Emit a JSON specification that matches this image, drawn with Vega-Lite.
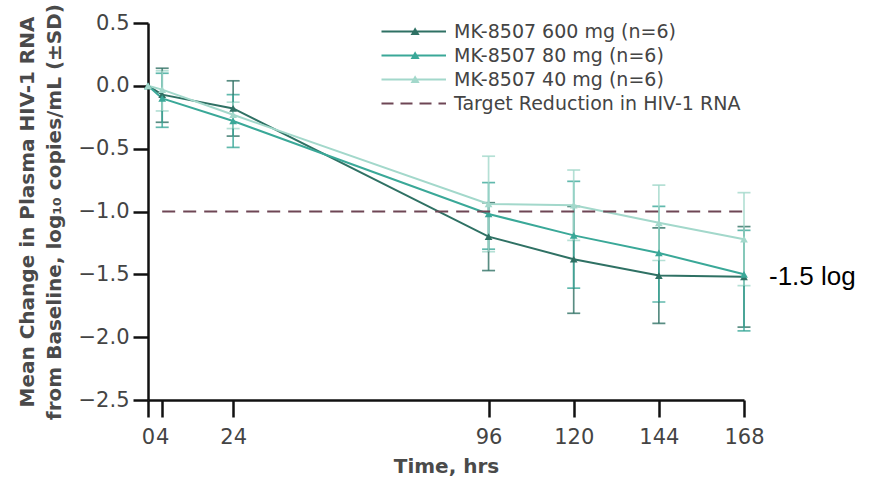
{
  "$schema": "https://vega.github.io/schema/vega-lite/v6.json",
  "width": 596,
  "height": 377,
  "autosize": "none",
  "padding": {"left": 148, "top": 23, "right": 125, "bottom": 82},
  "background": "white",
  "config": {
    "view": {"stroke": null},
    "font": "DejaVu Sans",
    "axis": {
      "grid": false,
      "domainColor": "#111111",
      "domainWidth": 2.5,
      "tickColor": "#111111",
      "tickWidth": 2.5,
      "labelFont": "DejaVu Sans",
      "labelFontSize": 21,
      "labelColor": "#444444",
      "titleFont": "DejaVu Sans",
      "titleFontWeight": "bold",
      "titleColor": "#4a4a4a"
    }
  },
  "data": {
    "values": [
      {"series": "MK-8507 600 mg (n=6)", "t": 0, "mean": 0, "lo": null, "hi": null},
      {"series": "MK-8507 600 mg (n=6)", "t": 4, "mean": -0.07, "lo": -0.29, "hi": 0.14},
      {"series": "MK-8507 600 mg (n=6)", "t": 24, "mean": -0.18, "lo": -0.40, "hi": 0.04},
      {"series": "MK-8507 600 mg (n=6)", "t": 96, "mean": -1.20, "lo": -1.47, "hi": -0.93},
      {"series": "MK-8507 600 mg (n=6)", "t": 120, "mean": -1.38, "lo": -1.81, "hi": -0.96},
      {"series": "MK-8507 600 mg (n=6)", "t": 144, "mean": -1.51, "lo": -1.89, "hi": -1.13},
      {"series": "MK-8507 600 mg (n=6)", "t": 168, "mean": -1.52, "lo": -1.92, "hi": -1.12},
      {"series": "MK-8507 80 mg (n=6)", "t": 0, "mean": 0, "lo": null, "hi": null},
      {"series": "MK-8507 80 mg (n=6)", "t": 4, "mean": -0.10, "lo": -0.33, "hi": 0.10},
      {"series": "MK-8507 80 mg (n=6)", "t": 24, "mean": -0.28, "lo": -0.49, "hi": -0.07},
      {"series": "MK-8507 80 mg (n=6)", "t": 96, "mean": -1.02, "lo": -1.30, "hi": -0.77},
      {"series": "MK-8507 80 mg (n=6)", "t": 120, "mean": -1.19, "lo": -1.61, "hi": -0.76},
      {"series": "MK-8507 80 mg (n=6)", "t": 144, "mean": -1.33, "lo": -1.72, "hi": -0.96},
      {"series": "MK-8507 80 mg (n=6)", "t": 168, "mean": -1.50, "lo": -1.95, "hi": -1.15},
      {"series": "MK-8507 40 mg (n=6)", "t": 0, "mean": 0, "lo": null, "hi": null},
      {"series": "MK-8507 40 mg (n=6)", "t": 4, "mean": -0.03, "lo": -0.20, "hi": 0.12},
      {"series": "MK-8507 40 mg (n=6)", "t": 24, "mean": -0.23, "lo": -0.34, "hi": -0.13},
      {"series": "MK-8507 40 mg (n=6)", "t": 96, "mean": -0.94, "lo": -1.32, "hi": -0.56},
      {"series": "MK-8507 40 mg (n=6)", "t": 120, "mean": -0.95, "lo": -1.23, "hi": -0.67},
      {"series": "MK-8507 40 mg (n=6)", "t": 144, "mean": -1.09, "lo": -1.39, "hi": -0.79},
      {"series": "MK-8507 40 mg (n=6)", "t": 168, "mean": -1.22, "lo": -1.59, "hi": -0.85},
      {"series": "Target Reduction in HIV-1 RNA", "t": 4, "mean": -1, "lo": null, "hi": null},
      {"series": "Target Reduction in HIV-1 RNA", "t": 168, "mean": -1, "lo": null, "hi": null}
    ]
  },
  "encoding": {
    "x": {
      "field": "t",
      "type": "quantitative",
      "scale": {"domain": [0, 168], "nice": false, "zero": false},
      "axis": {
        "title": "Time, hrs",
        "titleFontSize": 20,
        "titlePadding": 9,
        "values": [0, 4, 24, 96, 120, 144, 168],
        "tickSize": 17,
        "labelPadding": 9,
        "labelFlush": false,
        "labelOverlap": false
      }
    },
    "color": {
      "field": "series",
      "type": "nominal",
      "scale": {
        "domain": ["MK-8507 600 mg (n=6)", "MK-8507 80 mg (n=6)", "MK-8507 40 mg (n=6)", "Target Reduction in HIV-1 RNA"],
        "range": ["#2f7164", "#3aa898", "#a3d8cb", "#6e4655"]
      },
      "legend": {
        "title": null,
        "orient": "none",
        "legendX": 227,
        "legendY": -1,
        "padding": 0,
        "symbolSize": 36,
        "symbolType": "M-1,0H20.5M9.2,0.9L10.2,-0.8L11.2,0.9Z",
        "symbolStrokeWidth": 1.8,
        "labelOffset": 60,
        "labelFont": "DejaVu Sans",
        "labelFontSize": 19,
        "labelColor": "#444444",
        "rowPadding": 4,
        "labelLimit": 400,
        "encode": {
          "symbols": {
            "update": {
              "shape": {"signal": "datum.value === 'Target Reduction in HIV-1 RNA' ? 'M-1,0H20.5' : 'M-1,0H20.5M9.2,0.9L10.2,-0.8L11.2,0.9Z'"},
              "fill": {"scale": "color", "field": "value"},
              "stroke": {"scale": "color", "field": "value"},
              "strokeDash": {"signal": "datum.value === 'Target Reduction in HIV-1 RNA' ? [12, 7] : [1, 0]"},
              "opacity": {"value": 1}
            }
          }
        }
      }
    }
  },
  "layer": [
    {
      "transform": [{"filter": "datum.lo != null"}],
      "mark": {"type": "errorbar", "ticks": true, "size": 13, "thickness": 1.7, "rule": {"strokeWidth": 1.7}, "opacity": 0.8},
      "encoding": {
        "y": {
          "field": "lo",
          "type": "quantitative",
          "scale": {"domain": [-2.5, 0.5], "nice": false, "zero": false},
          "axis": {
            "title": ["Mean Change in Plasma HIV-1 RNA", "from Baseline, log₁₀ copies/mL (±SD)"],
            "titleFontSize": 20,
            "titleLineHeight": 27,
            "titlePadding": 14,
            "values": [0.5, 0, -0.5, -1, -1.5, -2, -2.5],
            "format": ".1f",
            "tickSize": 15,
            "labelPadding": 4
          }
        },
        "y2": {"field": "hi"}
      }
    },
    {
      "transform": [{"filter": "datum.series != 'Target Reduction in HIV-1 RNA'"}],
      "mark": {"type": "line", "strokeWidth": 2, "point": {"shape": "triangle-up", "size": 60, "filled": true}},
      "encoding": {
        "y": {
          "field": "mean",
          "type": "quantitative",
          "axis": {
            "title": ["Mean Change in Plasma HIV-1 RNA", "from Baseline, log₁₀ copies/mL (±SD)"],
            "titleFontSize": 20,
            "titleLineHeight": 27,
            "titlePadding": 14,
            "values": [0.5, 0, -0.5, -1, -1.5, -2, -2.5],
            "format": ".1f",
            "tickSize": 15,
            "labelPadding": 4
          }
        }
      }
    },
    {
      "transform": [{"filter": "datum.series == 'Target Reduction in HIV-1 RNA'"}],
      "mark": {"type": "line", "strokeWidth": 2, "strokeDash": [13, 8]},
      "encoding": {
        "y": {"field": "mean", "type": "quantitative"}
      }
    },
    {
      "data": {"values": [{"label": "-1.5 log", "t": 168, "v": -1.5}]},
      "mark": {"type": "text", "align": "left", "baseline": "middle", "dx": 25, "dy": 3, "font": "Liberation Sans", "fontSize": 26, "color": "#000000"},
      "encoding": {
        "x": {"field": "t", "type": "quantitative"},
        "y": {"field": "v", "type": "quantitative"},
        "text": {"field": "label"},
        "color": {"value": "#000000"}
      }
    }
  ]
}
